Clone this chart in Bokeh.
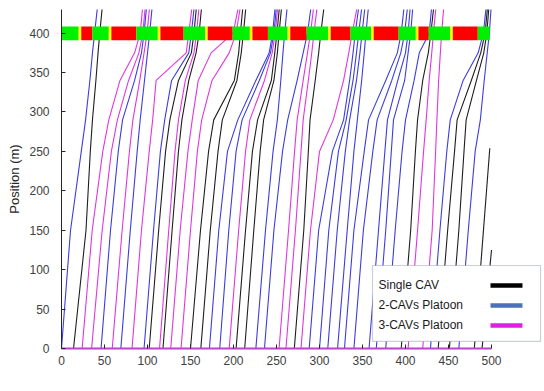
from bokeh.plotting import figure
from bokeh.models import Range1d, FixedTicker, BoxAnnotation, Label, ColumnDataSource
from bokeh.embed import file_html
from bokeh.resources import INLINE

# ---------------- data ----------------
# signal phases at the stop line (s)
sig_start = [0, 20, 23, 36, 55, 58, 87, 112, 115, 142, 167, 170, 199, 219, 222, 240, 263, 266, 285, 310, 313, 336, 360, 363, 392, 412, 415, 427, 452, 455, 484]
sig_end   = [20, 23, 36, 55, 58, 87, 112, 115, 142, 167, 170, 199, 219, 222, 240, 263, 266, 285, 310, 313, 336, 360, 363, 392, 412, 415, 427, 452, 455, 484, 498]
sig_state = ["G", "Y", "R", "G", "Y", "R", "G", "Y", "R", "G", "Y", "R", "G", "Y", "R", "G", "Y", "R", "G", "Y", "R", "G", "Y", "R", "G", "Y", "R", "G", "Y", "R", "G"]

# vehicle type: 1 = single CAV, 2 = 2-CAVs platoon, 3 = 3-CAVs platoon
veh_type = [2, 1, 3, 3, 2, 3, 2, 3, 2, 1,
            3, 1, 3, 3, 1, 1, 2, 2, 3, 1,
            1, 2, 2, 3, 3, 1, 3, 2, 2, 2,
            2, 2, 2, 2, 2, 2, 1, 3, 3, 2,
            1, 1, 2]
# time (s) at which each vehicle reaches the position levels below
pos_levels = [0, 150, 250, 290, 340, 375, 400, 440]
veh_times = [
    [0, 10.5, 23, 28, 33, 36, 38.5, 42.5],
    [14, 28.5, 33.5, 36, 40, 42.5, 44.5, 48],
    [24, 35.7, 48, 55, 68, 85, 91.5, 95],
    [35, 47.3, 58, 65, 78, 90, 94.5, 98],
    [46, 57, 66, 71, 85, 93, 96, 99.5],
    [59, 70.5, 79, 83, 91, 96, 99.5, 103],
    [69, 80, 88, 91.5, 96.5, 100, 102.5, 106],
    [82, 93, 102, 106, 110, 145, 148, 152.5],
    [96, 107, 115, 120, 128, 148, 151, 155],
    [102, 113, 121, 126, 136, 151, 154, 157.5],
    [114, 124.7, 132, 136, 144, 154, 157, 160.5],
    [118, 128.6, 136, 140, 148, 156.5, 160, 163.5],
    [127, 138, 147, 152, 159, 174, 199.5, 207],
    [139, 150, 158, 163, 175, 195, 203, 209],
    [150, 161.6, 171, 177, 201, 206, 208, 211.5],
    [162, 173, 182, 187, 204, 209, 211.5, 215],
    [172, 182.9, 193, 205, 226, 241.5, 245.5, 249],
    [184, 194.5, 203, 210, 230, 243, 247, 250.5],
    [195, 206, 214, 219, 236, 245, 248.5, 252],
    [203, 214, 222, 228, 244, 248, 250.5, 254],
    [213, 223.6, 231, 235, 247, 251, 253, 256.5],
    [226, 237.2, 246, 251, 255, 257.5, 259.5, 263],
    [236, 247, 257, 263, 274, 281, 286, 291],
    [253, 264, 271, 274, 281, 286, 289.5, 294],
    [261, 272, 278.5, 281, 287, 291, 293.5, 298],
    [270.7, 281.7, 287, 289, 295, 299, 301.5, 306],
    [278.5, 289.5, 300, 316, 328, 334, 338, 345],
    [288, 299, 315, 328, 335, 339, 341.5, 346.5],
    [300, 310.8, 322, 331, 339, 343, 345.5, 350],
    [309.6, 320.6, 330, 335, 343, 347, 349.5, 353.5],
    [321, 332.2, 340, 344, 349, 352, 354, 357.5],
    [329, 340, 352, 357, 377, 390.5, 395, 399],
    [340, 351, 362, 367, 384, 394.5, 399, 403],
    [357.6, 368.6, 376, 379, 391, 400, 403, 406],
    [366, 377, 383.5, 386, 399, 403, 406, 409],
    [377, 388, 396, 400, 410, 416, 427.5, 431],
    [395, 406, 411.5, 414, 420, 426.5, 429.5, 433.5],
    [403, 414, 421, 424, 427.5, 430.5, 432.5, 436],
    [420, 431, 435, 436.5, 438.5, 440.5, 442, 445],
    [429, 440, 448, 452, 467, 484.5, 490.5, 494.5],
    [438, 449, 457, 460, 476.5, 487.5, 492.5, 496],
    [451, 462, 468, 470.5, 482.5, 491, 494.5, 497.5],
    [462, 473, 481, 487, 491.5, 495, 497.5, 500],
]
# vehicles cut off by the end of the simulation
partial_type = [1, 1]
partial_times = [[480, 498], [489, 500]]
partial_pos = [[0, 254], [0, 125]]

x_ticks = [0, 50, 100, 150, 200, 250, 300, 350, 400, 450, 500]
y_ticks = [0, 50, 100, 150, 200, 250, 300, 350, 400]
legend_labels = ["Single CAV", "2-CAVs Platoon", "3-CAVs Platoon"]

# ---------------- styling ----------------
FONT = "Liberation Sans"
line_col = {1: "#1e1e1e", 2: "#3c3ce0", 3: "#e036e0"}
legend_col = {1: "#000000", 2: "#4a72b8", 3: "#e020e0"}
sig_col = {"G": "#00f000", "Y": "#ffff00", "R": "#ff0000"}

p = figure(width=544, height=391, x_range=Range1d(0, 561.6), y_range=Range1d(0, 430),
           output_backend="svg", toolbar_location=None,
           min_border_left=61, min_border_right=0, min_border_top=9, min_border_bottom=43)
p.outline_line_color = None
p.xgrid.visible = False
p.ygrid.visible = False
p.background_fill_color = "white"

xs, ys, cs = [], [], []
for vt, tt in zip(veh_type, veh_times):
    xs.append(tt)
    ys.append(pos_levels[:len(tt)])
    cs.append(line_col[vt])
for vt, tt, pp in zip(partial_type, partial_times, partial_pos):
    xs.append(tt)
    ys.append(pp)
    cs.append(line_col[vt])
p.multi_line(xs=xs, ys=ys, line_color=cs, line_width=1.1, line_join="round")

# signal bar
src = ColumnDataSource(dict(left=sig_start, right=sig_end,
                            color=[sig_col[s] for s in sig_state]))
p.quad(left="left", right="right", bottom=391, top=408.5, fill_color="color",
       line_color=None, source=src)

# axes
p.xaxis.ticker = FixedTicker(ticks=x_ticks)
p.yaxis.ticker = FixedTicker(ticks=y_ticks)
p.xaxis.bounds = (0, 500)
for ax in (p.xaxis, p.yaxis):
    ax.major_tick_in = 4
    ax.major_tick_out = 0
    ax.minor_tick_in = 0
    ax.minor_tick_out = 0
    ax.major_label_text_font = FONT
    ax.major_label_text_font_size = "12px"
    ax.major_label_text_color = "#404040"
    ax.axis_label_text_font = FONT
    ax.axis_label_text_font_size = "13px"
    ax.axis_label_text_font_style = "normal"
    ax.axis_label_text_color = "#262626"
    ax.major_tick_line_color = "#262626"
p.xaxis.axis_line_color = "#c040d0"
p.xaxis.axis_line_width = 2
p.yaxis.axis_line_color = "#262626"
p.xaxis.major_label_standoff = 7
p.yaxis.major_label_standoff = 12
p.yaxis.axis_label = "Position (m)"
p.yaxis.axis_label_standoff = 4

p.add_layout(Label(x=250, y=-33, y_units="screen", text="Time (s)", text_align="center",
                   text_baseline="middle", text_font=FONT, text_font_size="13px",
                   text_color="#262626"))

# legend (text left, sample right)
p.add_layout(BoxAnnotation(left=361.6, right=557, bottom=9, top=105.3, fill_color="white",
                           fill_alpha=1, line_color="#55606e", line_width=1.2))
leg_y = [80, 54.6, 29.2]
for lab, ly, k in zip(legend_labels, leg_y, [1, 2, 3]):
    p.add_layout(Label(x=368.6, y=ly, text=lab, text_font=FONT, text_font_size="12px",
                       text_baseline="middle", text_color="#1a1a1a"))
    p.add_layout(BoxAnnotation(left=498.8, right=536, bottom=ly - 2.8, top=ly + 2.8,
                               fill_color=legend_col[k], fill_alpha=1, line_color=None))

open("out.html", "w").write(file_html(p, INLINE))
